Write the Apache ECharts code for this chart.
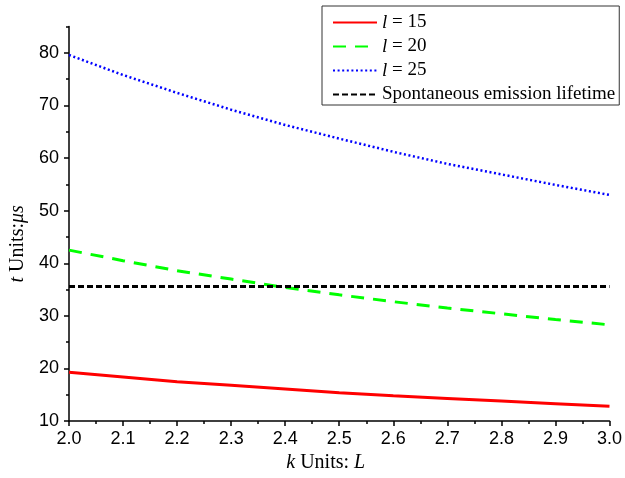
<!DOCTYPE html>
<html>
<head>
<meta charset="utf-8">
<script src="https://cdn.jsdelivr.net/npm/echarts@6/dist/echarts.min.js"></script>
<style>
html,body{margin:0;padding:0;background:#fff;}
#chart{width:625px;height:478px;}
</style>
</head>
<body>
<div id="chart"></div>
<script>
const kValues = [2.0, 2.1, 2.2, 2.3, 2.4, 2.5, 2.6, 2.7, 2.8, 2.9, 3.0];
const tL15 = [19.3, 18.4, 17.5, 16.8, 16.1, 15.4, 14.8, 14.3, 13.8, 13.3, 12.8];
const tL20 = [42.5, 40.5, 38.6, 37.0, 35.4, 34.0, 32.7, 31.5, 30.4, 29.3, 28.3];
const tL25 = [79.6, 75.8, 72.4, 69.2, 66.3, 63.7, 61.2, 58.9, 56.9, 54.9, 53.0];
const spontaneousLifetime = 35.6;
const seriesNames = ['l = 15', 'l = 20', 'l = 25', 'Spontaneous emission lifetime'];
const yMajorTicks = [10, 20, 30, 40, 50, 60, 70, 80];
const yMinorTicks = [15, 25, 35, 45, 55, 65, 75, 85];

const pair = (arr) => kValues.map((k, i) => [k, arr[i]]);
const serif = '"Liberation Serif", "Times New Roman", serif';
const sans = '"Liberation Sans", Arial, sans-serif';

const chart = echarts.init(document.getElementById('chart'), null, {renderer: 'canvas'});
chart.setOption({
  animation: false,
  backgroundColor: '#fff',
  grid: {left: 69, right: 13, top: 26.6, bottom: 55, containLabel: false},
  legend: {
    orient: 'vertical',
    left: 322, top: 6,
    padding: [7, 4, 1, 10],
    itemGap: 5,
    itemWidth: 44,
    itemHeight: 14,
    borderColor: '#333',
    borderWidth: 1,
    backgroundColor: '#fff',
    itemStyle: {opacity: 0},
    data: seriesNames,
    formatter: function (name) {
      if (name.indexOf('l = ') === 0) return '{i|l} = ' + name.slice(4);
      return name;
    },
    textStyle: {
      fontFamily: serif, fontSize: 19, color: '#000',
      rich: {i: {fontFamily: serif, fontStyle: 'italic', fontSize: 19, color: '#000'}}
    }
  },
  xAxis: {
    type: 'value', min: 2, max: 3, interval: 0.1,
    name: '{i|k} Units: {i|L}',
    nameLocation: 'middle', nameGap: 31,
    nameTextStyle: {
      fontFamily: serif, fontSize: 20, color: '#000', padding: [0, 27, 0, 0],
      rich: {i: {fontFamily: serif, fontStyle: 'italic', fontSize: 20, color: '#000'}}
    },
    axisLine: {onZero: false, lineStyle: {color: '#000', width: 1.5}},
    axisTick: {show: true, length: 5, lineStyle: {color: '#000', width: 1.5}},
    minorTick: {show: true, splitNumber: 2, length: 3, lineStyle: {color: '#000', width: 1.5}},
    axisLabel: {margin: 9, fontFamily: sans, fontSize: 18, color: '#000',
      formatter: (v) => v.toFixed(1)},
    splitLine: {show: false}
  },
  yAxis: [{
    type: 'value', min: 10, max: 85, interval: 10,
    name: '{i|t} Units:{i|μs}',
    nameLocation: 'middle', nameGap: 40, nameRotate: 90,
    nameTextStyle: {
      fontFamily: serif, fontSize: 20, color: '#000', padding: [0, 40, 0, 0],
      rich: {i: {fontFamily: serif, fontStyle: 'italic', fontSize: 20, color: '#000'}}
    },
    axisLine: {onZero: false, lineStyle: {color: '#000', width: 1.5}},
    axisTick: {show: true, length: 5, customValues: yMajorTicks, lineStyle: {color: '#000', width: 1.5}},
    axisLabel: {margin: 10, fontFamily: sans, fontSize: 18, color: '#000', customValues: yMajorTicks},
    splitLine: {show: false}
  }, {
    type: 'value', min: 10, max: 85, position: 'left',
    axisLine: {show: false},
    axisTick: {show: true, length: 3, customValues: yMinorTicks, lineStyle: {color: '#000', width: 1.5}},
    axisLabel: {show: false},
    splitLine: {show: false}
  }],
  series: [
    {name: seriesNames[0], type: 'line', data: pair(tL15), symbol: 'none',
      lineStyle: {color: '#ff0000', width: 3, type: 'solid'}, itemStyle: {color: '#ff0000'}},
    {name: seriesNames[1], type: 'line', data: pair(tL20), symbol: 'none',
      lineStyle: {color: '#00ff00', width: 3, type: [13, 9]}, itemStyle: {color: '#00ff00'}},
    {name: seriesNames[2], type: 'line', data: pair(tL25), symbol: 'none',
      lineStyle: {color: '#0000ff', width: 2.5, type: [2, 2.6]}, itemStyle: {color: '#0000ff'}},
    {name: seriesNames[3], type: 'line', data: [[kValues[0], spontaneousLifetime], [kValues[kValues.length - 1], spontaneousLifetime]],
      symbol: 'none', lineStyle: {color: '#000', width: 3, type: [6, 3]}, itemStyle: {color: '#000'}}
  ]
});
</script>
</body>
</html>
